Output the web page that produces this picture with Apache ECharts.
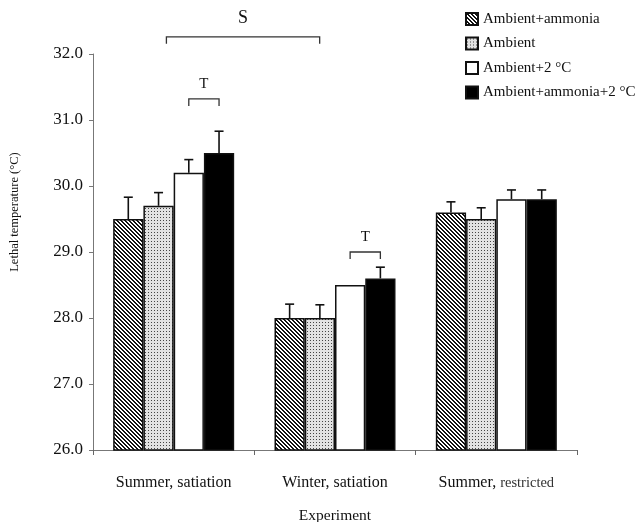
<!DOCTYPE html>
<html><head><meta charset="utf-8">
<script src="https://cdn.jsdelivr.net/npm/echarts@6/dist/echarts.min.js"></script>
<style>html,body{margin:0;padding:0;background:#fff}#c{width:643px;height:522px}</style>
</head><body><div id="c"></div>
<script>
// ---- data ----
const categories = ['Summer, satiation', 'Winter, satiation', 'Summer, restricted'];
const seriesNames = ['Ambient+ammonia', 'Ambient', 'Ambient+2 °C', 'Ambient+ammonia+2 °C'];
const ambientAmmonia   = [29.5, 28.0, 29.6];
const ambient          = [29.7, 28.0, 29.5];
const ambient2C        = [30.2, 28.5, 29.8];
const ambientAmmonia2C = [30.5, 28.6, 29.8];
const errAmbientAmmonia   = [0.33, 0.21, 0.16];
const errAmbient          = [0.20, 0.20, 0.17];
const errAmbient2C        = [0.20, 0.00, 0.14];
const errAmbientAmmonia2C = [0.33, 0.17, 0.14];
const yMin = 26, yMax = 32, yStep = 1;
// annotations
const tBracketCats = [0, 1];
const tBracketY = [31.32, 29.0];
const sBracketFrom = 0, sBracketTo = 1, sBracketY = 32.26;

// ---- patterns ----
function hatch() {
  const c = document.createElement('canvas'); c.width = 4; c.height = 4;
  const g = c.getContext('2d'); g.fillStyle = '#fff'; g.fillRect(0,0,4,4);
  g.fillStyle = '#111';
  for (let i = 0; i < 4; i++) { g.fillRect(i, i, 1, 1); g.fillRect((i+1)%4, i, 1, 1); }
  return c;
}
function stipple() {
  const c = document.createElement('canvas'); c.width = 3; c.height = 3;
  const g = c.getContext('2d'); g.fillStyle = '#e2e2e2'; g.fillRect(0,0,3,3);
  g.fillStyle = '#444'; g.fillRect(1,1,1,1);
  return c;
}
const fills = [
  {image: hatch(), repeat: 'repeat'},
  {image: stipple(), repeat: 'repeat'},
  '#ffffff',
  '#000000'
];
const values = [ambientAmmonia, ambient, ambient2C, ambientAmmonia2C];
const errs = [errAmbientAmmonia, errAmbient, errAmbient2C, errAmbientAmmonia2C];
const GAP = 0.25;
const FONT = '"Liberation Serif", "Times New Roman", serif';

const barSeries = seriesNames.map((n, i) => ({
  name: n, type: 'bar', data: values[i],
  barGap: '0%', barCategoryGap: (GAP*100) + '%',
  itemStyle: {color: fills[i], borderColor: '#111', borderWidth: 1.5},
  emphasis: {disabled: true}
}));

const errData = [];
for (let s = 0; s < 4; s++) for (let c = 0; c < categories.length; c++)
  errData.push([c, values[s][c], errs[s][c], s]);

const errSeries = {
  type: 'custom', data: errData, encode: {x: 0, y: 1}, z: 5, silent: true,
  renderItem(params, api) {
    const c = api.value(0), v = api.value(1), e = api.value(2), s = api.value(3);
    if (!e) return null;
    const band = api.size([1, 0])[0];
    const bw = band * (1 - GAP) / 4;
    const base = api.coord([c, v]);
    const x = base[0] + (s - 1.5) * bw;
    const top = api.coord([c, v + e])[1];
    const st = {stroke: '#111', lineWidth: 1.6};
    return {type: 'group', children: [
      {type: 'line', shape: {x1: x, y1: base[1], x2: x, y2: top}, style: st},
      {type: 'line', shape: {x1: x - 4.5, y1: top, x2: x + 4.5, y2: top}, style: st}
    ]};
  }
};

const annData = tBracketCats.map((c, i) => [c, tBracketY[i], 0, c]);
annData.push([sBracketFrom, sBracketY, 1, sBracketTo]);
const annSeries = {
  type: 'custom', data: annData, dimensions: ['c', 'y', 'kind', 'to'], encode: {x: 0, y: 1}, z: 5, silent: true, clip: false,
  renderItem(params, api) {
    const c = api.value(0), y = api.value(1), kind = api.value(2), to = api.value(3);
    const band = api.size([1, 0])[0];
    const bw = band * (1 - GAP) / 4;
    const p = api.coord([c, y]);
    const st = {stroke: '#333', lineWidth: 1.3};
    let x1, x2, label;
    if (kind === 0) { x1 = p[0] + 0.5 * bw; x2 = p[0] + 1.5 * bw; label = 'T'; }
    else { const q = api.coord([to, y]); x1 = p[0] - 0.045 * band; x2 = q[0] - 0.095 * band; label = 'S'; }
    const yy = p[1];
    return {type: 'group', children: [
      {type: 'polyline', shape: {points: [[x1, yy + 7], [x1, yy], [x2, yy], [x2, yy + 7]]}, style: Object.assign({fill: null}, st)},
      {type: 'text', style: {text: label, x: (x1 + x2) / 2, y: yy - (kind === 0 ? 15 : 19), align: 'center', verticalAlign: 'middle',
        font: (kind === 0 ? '15px ' : '18px ') + FONT, fill: '#111'}}
    ]};
  }
};

const chart = echarts.init(document.getElementById('c'), null, {renderer: 'canvas'});
chart.setOption({
  animation: false,
  backgroundColor: '#fff',
  textStyle: {fontFamily: FONT},
  grid: {left: 93, right: 66, top: 54, bottom: 72, containLabel: false, outerBoundsMode: 'none'},
  legend: {
    data: seriesNames, orient: 'vertical', left: 460, top: 6, itemGap: 8.5,
    icon: 'rect', itemWidth: 12, itemHeight: 12,
    textStyle: {fontFamily: FONT, fontSize: 15, color: '#111', lineHeight: 16},
    selectedMode: false
  },
  xAxis: {
    type: 'category', data: categories,
    name: 'Experiment', nameLocation: 'middle', nameGap: 58,
    nameTextStyle: {fontFamily: FONT, fontSize: 15.5, color: '#111'},
    axisLine: {lineStyle: {color: '#777', width: 1}},
    axisTick: {show: true, length: 5, interval: 0, lineStyle: {color: '#666'}},
    axisLabel: {interval: 0, fontFamily: FONT, fontSize: 16, color: '#111', margin: 25,
      formatter: v => v === 'Summer, restricted' ? '{a|Summer,} {b|restricted}' : v,
      rich: {a: {fontFamily: FONT, fontSize: 16, color: '#111'}, b: {fontFamily: FONT, fontSize: 14.5, color: '#333'}}}
  },
  yAxis: {
    type: 'value', min: yMin, max: yMax, interval: yStep,
    name: 'Lethal temperature (°C)', nameLocation: 'middle', nameGap: 72,
    nameTextStyle: {fontFamily: FONT, fontSize: 12.5, color: '#111', padding: [0, 0, 0, 80]},
    axisLine: {show: true, lineStyle: {color: '#777', width: 1}},
    axisTick: {show: true, length: 4, lineStyle: {color: '#777'}},
    splitLine: {show: false},
    axisLabel: {fontFamily: FONT, fontSize: 17, color: '#111', margin: 10, formatter: v => v.toFixed(1)}
  },
  series: barSeries.concat([errSeries, annSeries])
});
</script></body></html>
